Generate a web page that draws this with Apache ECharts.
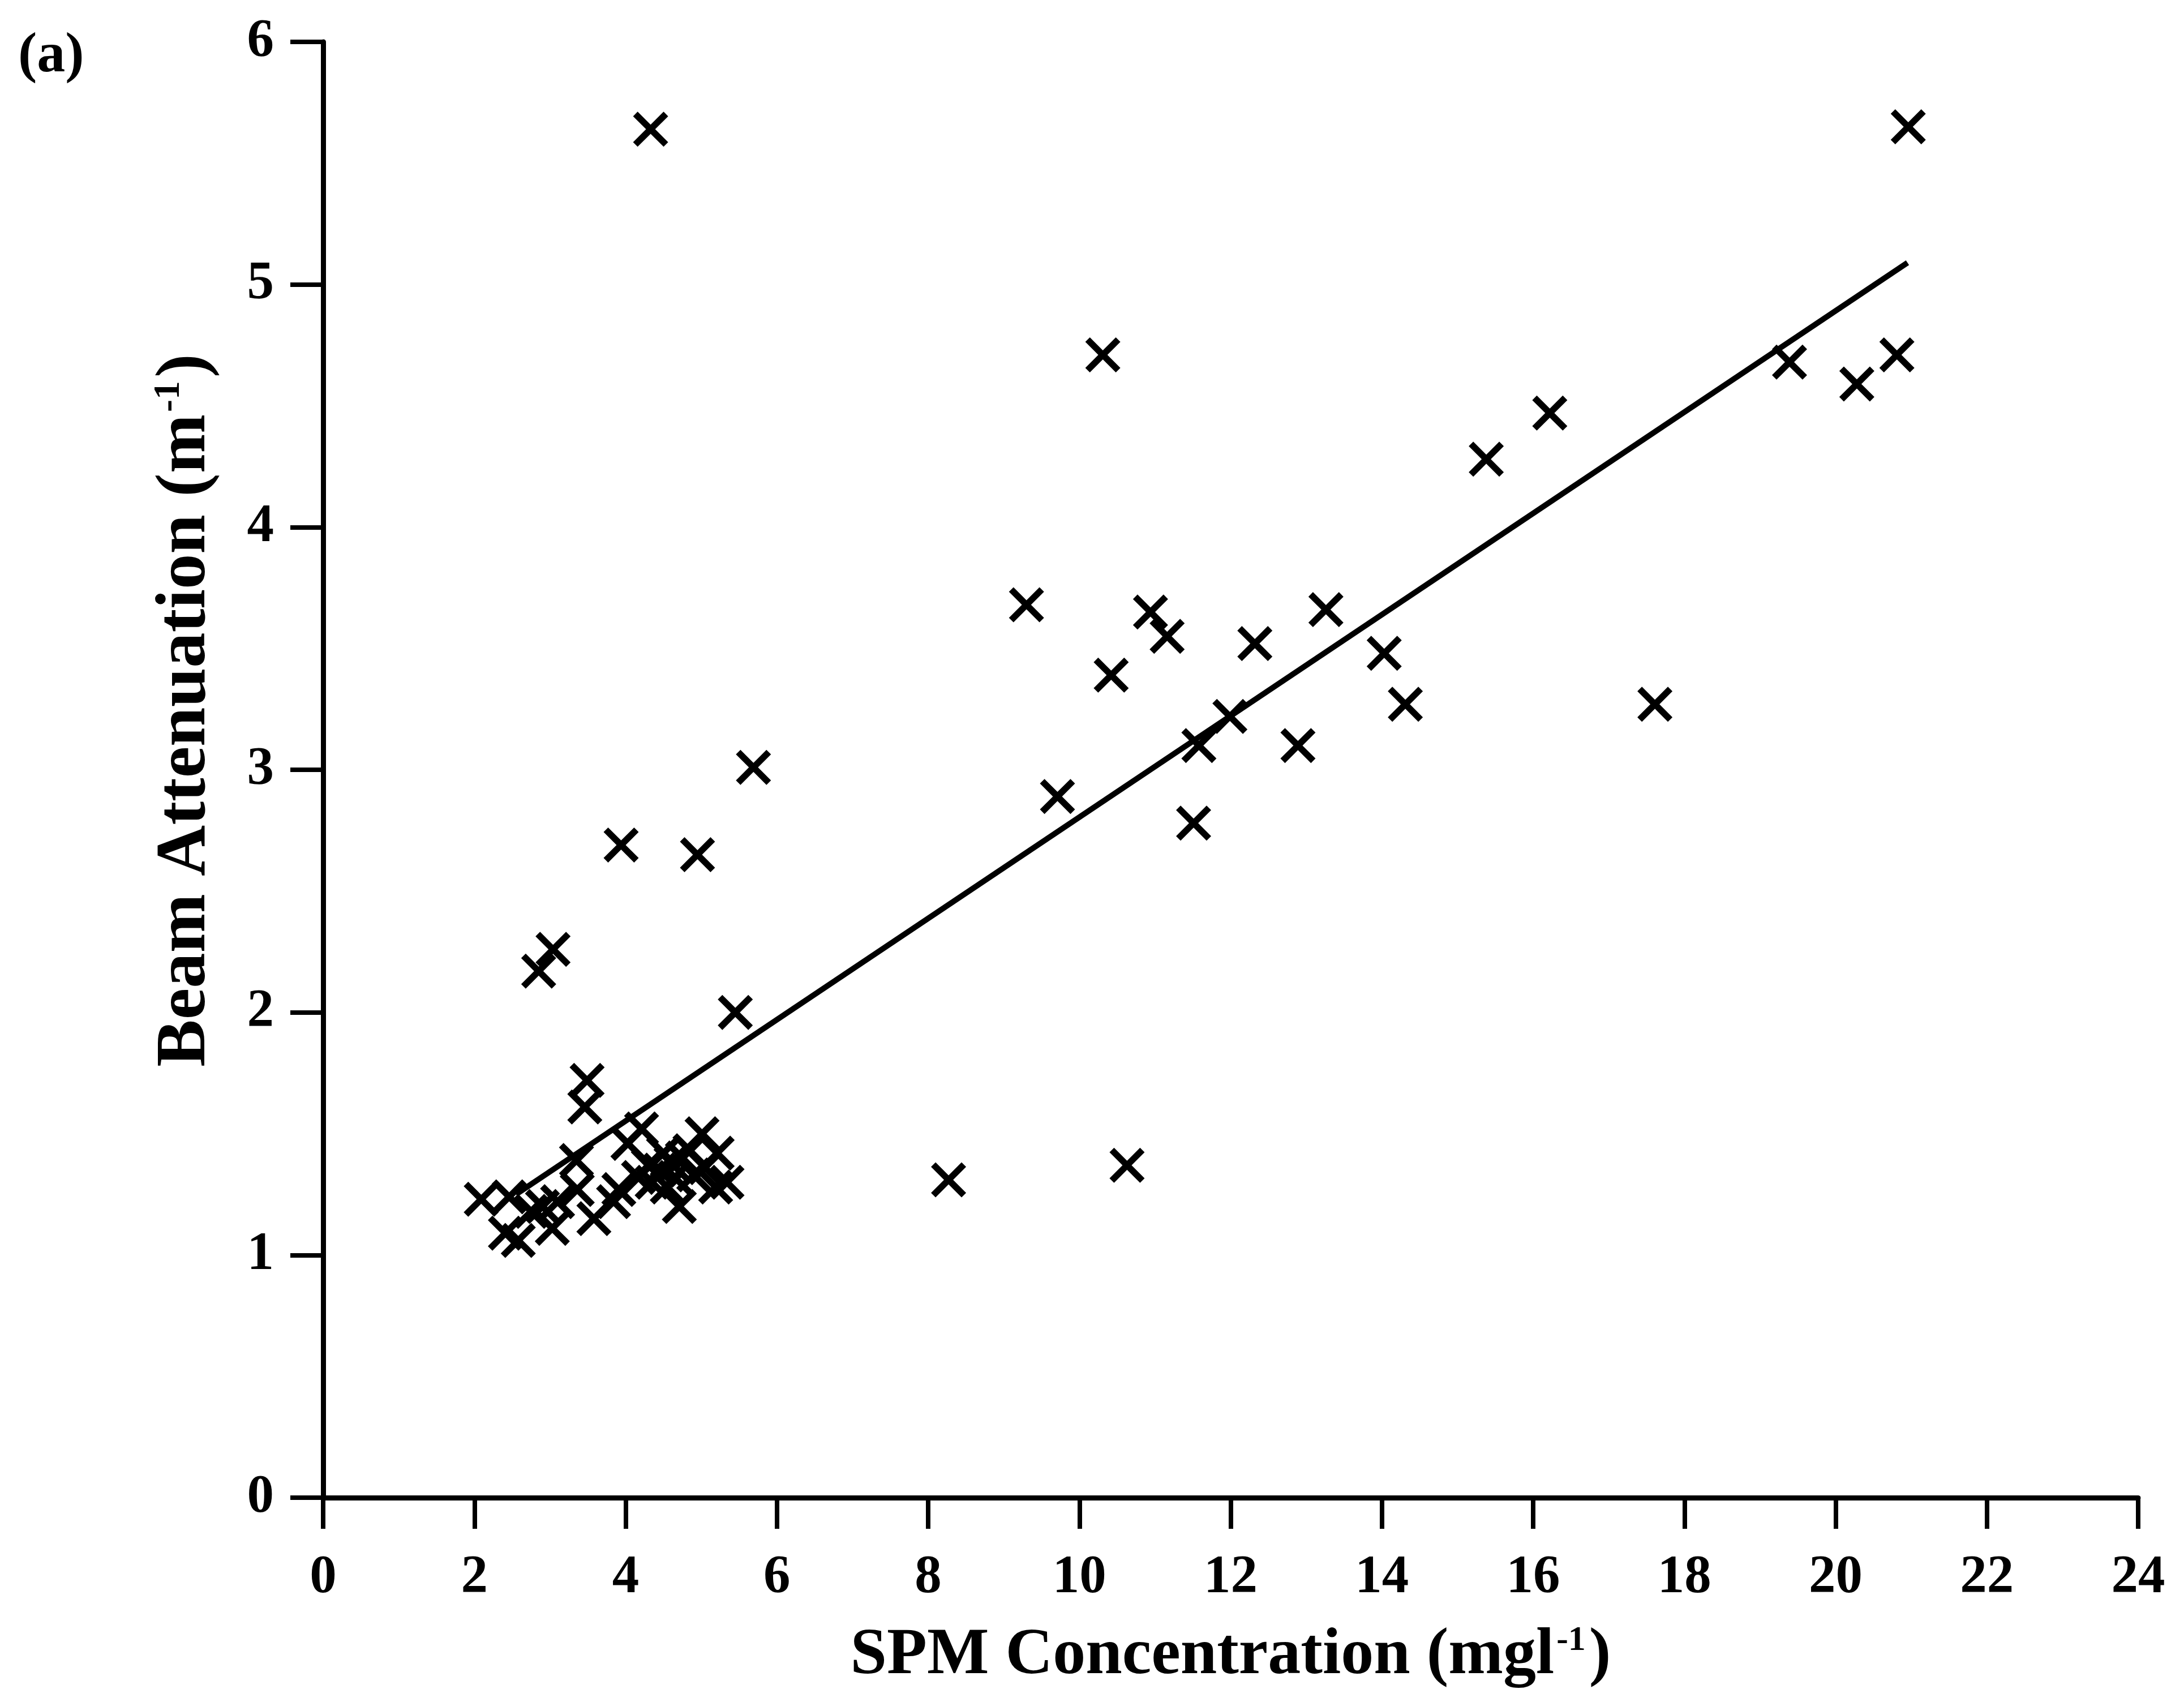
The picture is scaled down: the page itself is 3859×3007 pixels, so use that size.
<!DOCTYPE html>
<html>
<head>
<meta charset="utf-8">
<script src="https://cdn.jsdelivr.net/npm/echarts@6/dist/echarts.min.js"></script>
<style>
html,body{margin:0;padding:0;background:#fff;}
#chart{width:3859px;height:3007px;}
</style>
</head>
<body>
<div id="chart"></div>
<script>
// SPM concentration (mg/l) and beam attenuation (1/m) for each sample
const spm = [
  4.33, 20.96, 10.31, 19.39, 20.28, 20.81, 16.22, 15.38, 9.30, 10.94,
  11.16, 13.26, 12.32, 14.03, 10.42, 14.31, 17.61, 11.99, 11.58, 12.89,
  5.69, 9.71, 11.51, 3.94, 4.95, 3.04, 2.85, 5.45, 8.27, 10.63,
  3.49, 3.46,
  2.09, 2.46, 2.41, 2.58, 2.75, 2.90, 3.03, 3.10, 3.35, 3.36,
  3.58, 3.84, 3.91, 4.03, 4.21, 4.17, 4.35, 4.45, 4.55, 4.60,
  4.71, 4.75, 4.85, 4.90, 5.01, 5.19, 5.21, 5.34,
  4.30, 4.50, 4.65, 5.05
];
const beam = [
  5.64, 5.65, 4.71, 4.68, 4.59, 4.71, 4.47, 4.28, 3.68, 3.65,
  3.55, 3.66, 3.52, 3.48, 3.39, 3.27, 3.27, 3.22, 3.10, 3.10,
  3.01, 2.89, 2.78, 2.69, 2.65, 2.26, 2.17, 2.00, 1.31, 1.37,
  1.72, 1.61,
  1.23, 1.24, 1.09, 1.06, 1.18, 1.20, 1.11, 1.22, 1.39, 1.27,
  1.15, 1.22, 1.27, 1.46, 1.52, 1.32, 1.30, 1.35, 1.28, 1.38,
  1.20, 1.40, 1.43, 1.33, 1.50, 1.28, 1.42, 1.30,
  1.37, 1.42, 1.32, 1.36
];
// regression line end points
const fitX = [2.55, 20.95];
const fitY = [1.25, 5.09];
// axis ticks
const xTicks = [0, 2, 4, 6, 8, 10, 12, 14, 16, 18, 20, 22, 24];
const yTicks = [0, 1, 2, 3, 4, 5, 6];

const points = spm.map((v, i) => [v, beam[i]]);
const fitLine = fitX.map((v, i) => [v, fitY[i]]);

const serif = '"Liberation Serif", "Times New Roman", serif';
const xShape = 'path://M13,0 L50,37 L87,0 L100,13 L63,50 L100,87 L87,100 L50,63 L13,100 L0,87 L37,50 L0,13 Z';

const chart = echarts.init(document.getElementById('chart'), null, {renderer: 'canvas'});
chart.setOption({
  animation: false,
  backgroundColor: '#fff',
  grid: {left: 571, top: 74, width: 3207, height: 2572, containLabel: false},
  graphic: [{
    type: 'text', left: 32, top: 50,
    style: {text: '(a)', font: 'bold 100px ' + serif, fill: '#000'}
  }],
  xAxis: {
    type: 'value', min: xTicks[0], max: xTicks[xTicks.length - 1], interval: 2,
    name: '{a|SPM Concentration (mgl}{s|-1}{a|)}',
    nameLocation: 'middle', nameGap: 222,
    nameTextStyle: {
      rich: {
        a: {fontFamily: serif, fontWeight: 'bold', fontSize: 116, color: '#000'},
        s: {fontFamily: serif, fontWeight: 'bold', fontSize: 62, color: '#000', verticalAlign: 'top', padding: [0, 6, 0, 4]}
      }
    },
    axisLine: {onZero: false, lineStyle: {color: '#000', width: 9}},
    axisTick: {show: true, inside: false, length: 55, lineStyle: {color: '#000', width: 8}},
    axisLabel: {margin: 95, fontFamily: serif, fontWeight: 'bold', fontSize: 95, color: '#000'},
    splitLine: {show: false}
  },
  yAxis: {
    type: 'value', min: yTicks[0], max: yTicks[yTicks.length - 1], interval: 1,
    name: '{a|Beam Attenuation (m}{s|-1}{a|)}',
    nameLocation: 'middle', nameGap: 180, nameRotate: 90,
    nameTextStyle: {
      padding: [0, 0, 0, 210],
      rich: {
        a: {fontFamily: serif, fontWeight: 'bold', fontSize: 125, color: '#000'},
        s: {fontFamily: serif, fontWeight: 'bold', fontSize: 66, color: '#000', verticalAlign: 'top', padding: [0, 6, 0, 4]}
      }
    },
    axisLine: {onZero: false, lineStyle: {color: '#000', width: 9}},
    axisTick: {show: true, inside: false, length: 58, lineStyle: {color: '#000', width: 8}},
    axisLabel: {margin: 87, fontFamily: serif, fontWeight: 'bold', fontSize: 95, color: '#000'},
    splitLine: {show: false}
  },
  series: [
    {
      type: 'line', data: fitLine, symbol: 'none', silent: true,
      lineStyle: {color: '#000', width: 10}, z: 2
    },
    {
      type: 'scatter', data: points, symbol: xShape, symbolSize: 62,
      itemStyle: {color: '#000', opacity: 1}, z: 3
    }
  ]
});
</script>
</body>
</html>
